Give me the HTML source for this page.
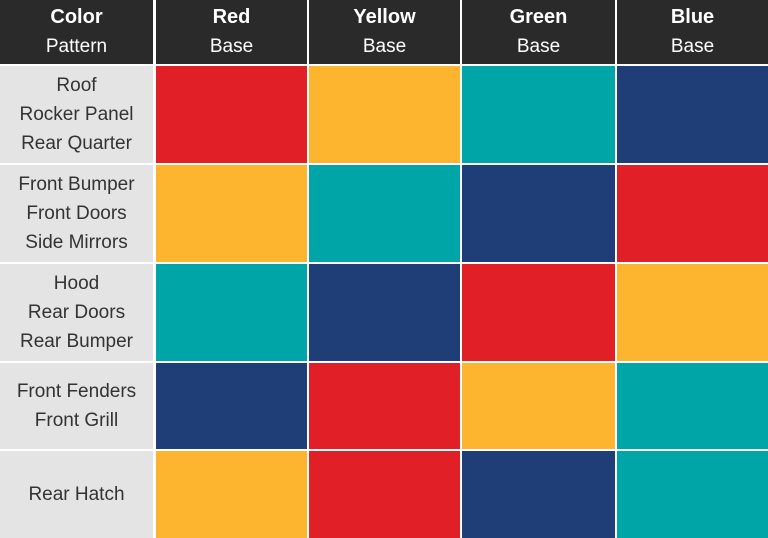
<!DOCTYPE html>
<html><head><meta charset="utf-8"><style>
body{margin:0;width:768px;height:538px;background:#fff;position:relative;overflow:hidden;font-family:"Liberation Sans",sans-serif}
div.c{position:absolute;box-sizing:border-box;display:flex;flex-direction:column;justify-content:center;align-items:center;text-align:center}
.h{background:#2a2a2a;color:#fff;font-size:19px;line-height:29px}
.h b{font-size:20px}
.l{background:#e4e4e4;color:#333;font-size:19px;line-height:29px}
.R{background:#e11f27}.Y{background:#fdb52f}.T{background:#00a5a7}.B{background:#1f3e78}
</style></head><body>
<div class="c h" style="left:0;top:0;width:153px;height:64px"><b>Color</b>Pattern</div>
<div class="c h" style="left:156px;top:0;width:151px;height:64px"><b>Red</b>Base</div>
<div class="c h" style="left:309px;top:0;width:151px;height:64px"><b>Yellow</b>Base</div>
<div class="c h" style="left:462px;top:0;width:153px;height:64px"><b>Green</b>Base</div>
<div class="c h" style="left:617px;top:0;width:151px;height:64px"><b>Blue</b>Base</div>

<div class="c l" style="left:0;top:66px;width:153px;height:97px">Roof<br>Rocker Panel<br>Rear Quarter</div>
<div class="c R" style="left:156px;top:66px;width:151px;height:97px"></div>
<div class="c Y" style="left:309px;top:66px;width:151px;height:97px"></div>
<div class="c T" style="left:462px;top:66px;width:153px;height:97px"></div>
<div class="c B" style="left:617px;top:66px;width:151px;height:97px"></div>

<div class="c l" style="left:0;top:165px;width:153px;height:97px">Front Bumper<br>Front Doors<br>Side Mirrors</div>
<div class="c Y" style="left:156px;top:165px;width:151px;height:97px"></div>
<div class="c T" style="left:309px;top:165px;width:151px;height:97px"></div>
<div class="c B" style="left:462px;top:165px;width:153px;height:97px"></div>
<div class="c R" style="left:617px;top:165px;width:151px;height:97px"></div>

<div class="c l" style="left:0;top:264px;width:153px;height:97px">Hood<br>Rear Doors<br>Rear Bumper</div>
<div class="c T" style="left:156px;top:264px;width:151px;height:97px"></div>
<div class="c B" style="left:309px;top:264px;width:151px;height:97px"></div>
<div class="c R" style="left:462px;top:264px;width:153px;height:97px"></div>
<div class="c Y" style="left:617px;top:264px;width:151px;height:97px"></div>

<div class="c l" style="left:0;top:363px;width:153px;height:86px">Front Fenders<br>Front Grill</div>
<div class="c B" style="left:156px;top:363px;width:151px;height:86px"></div>
<div class="c R" style="left:309px;top:363px;width:151px;height:86px"></div>
<div class="c Y" style="left:462px;top:363px;width:153px;height:86px"></div>
<div class="c T" style="left:617px;top:363px;width:151px;height:86px"></div>

<div class="c l" style="left:0;top:451px;width:153px;height:87px">Rear Hatch</div>
<div class="c Y" style="left:156px;top:451px;width:151px;height:87px"></div>
<div class="c R" style="left:309px;top:451px;width:151px;height:87px"></div>
<div class="c B" style="left:462px;top:451px;width:153px;height:87px"></div>
<div class="c T" style="left:617px;top:451px;width:151px;height:87px"></div>
</body></html>
